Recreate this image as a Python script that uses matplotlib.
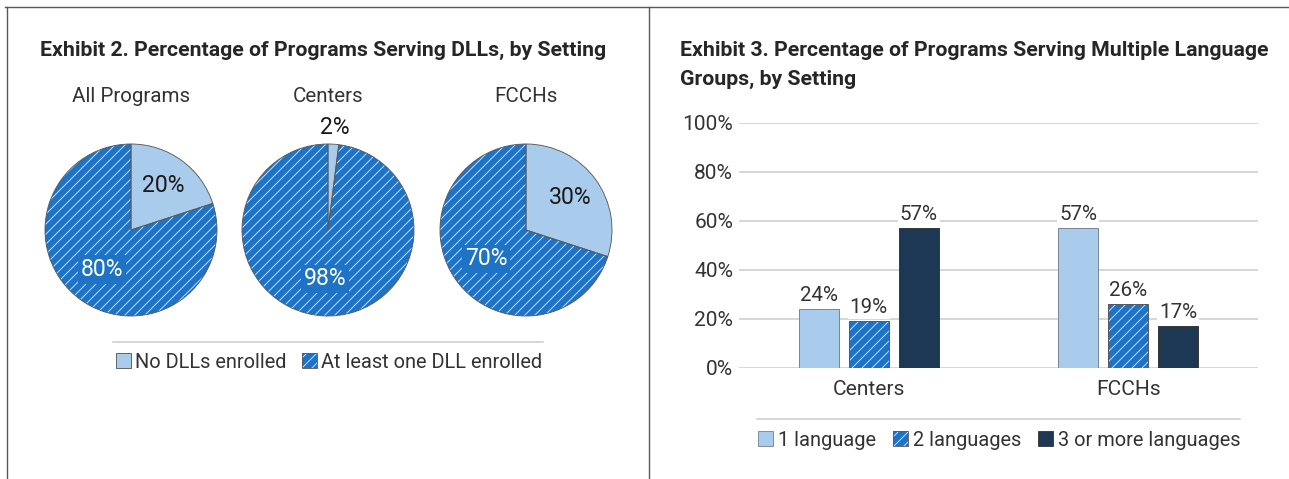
import numpy as np
import matplotlib
matplotlib.use('Agg')
import matplotlib.pyplot as plt
from matplotlib.lines import Line2D
from matplotlib.patches import Patch
from matplotlib.legend_handler import HandlerTuple

# Exhibit 2 data
pie_titles = ['All Programs', 'Centers', 'FCCHs']
no_dll = [20, 2, 30]
any_dll = [80, 98, 70]
pie_legend = ['No DLLs enrolled', 'At least one DLL enrolled']

# Exhibit 3 data
settings = ['Centers', 'FCCHs']
one_lang = [24, 57]
two_lang = [19, 26]
three_lang = [57, 17]
bar_legend = ['1 language', '2 languages', '3 or more languages']
y_ticks = [0, 20, 40, 60, 80, 100]

W, H = 1289, 479
DPI = 120


def px(v):
    # pixels -> points
    return v * 72.0 / DPI


def fx(x):
    return x / W


def fy(y):
    return 1 - y / H


LIGHT = '#A9CBEC'
BLUE = '#1F73C4'
NAVY = '#1C3854'
HATCH_C = '#D6E7F8'
EDGE = '#5A5A5A'
TEXT = '#333333'
GRID = '#CBCBCB'
HATCH = '////'

plt.rcParams['font.family'] = ['Roboto', 'DejaVu Sans']
plt.rcParams['hatch.linewidth'] = px(0.9)
TITLE_FONT = ['Liberation Sans Narrow', 'Roboto', 'DejaVu Sans']
TITLE_SIZE = px(21.3)

fig = plt.figure(figsize=(W / DPI, H / DPI), dpi=DPI)

# frame lines
frame_kw = dict(transform=fig.transFigure, color='#595959', lw=px(1.4))
fig.add_artist(Line2D([fx(5), 1], [fy(7), fy(7)], **frame_kw))
fig.add_artist(Line2D([fx(6.5), fx(6.5)], [fy(7), 0], **frame_kw))
fig.add_artist(Line2D([fx(649), fx(649)], [fy(7), 0], **frame_kw))

# titles
fig.text(fx(40), fy(56), 'Exhibit 2. Percentage of Programs Serving DLLs, by Setting',
         family=TITLE_FONT, fontweight='bold', fontsize=TITLE_SIZE, color='#262626',
         ha='left', va='baseline')
fig.text(fx(680), fy(56), 'Exhibit 3. Percentage of Programs Serving Multiple Language',
         family=TITLE_FONT, fontweight='bold', fontsize=TITLE_SIZE, color='#262626',
         ha='left', va='baseline')
fig.text(fx(680), fy(85), 'Groups, by Setting',
         family=TITLE_FONT, fontweight='bold', fontsize=TITLE_SIZE, color='#262626',
         ha='left', va='baseline')

# ---- Exhibit 2: pies ----
pie_cx = [131, 328, 526]
pie_cy = 230
R = 86
for i, cx in enumerate(pie_cx):
    ax = fig.add_axes([fx(cx - R), fy(pie_cy + R), 2 * R / W, 2 * R / H])
    vals = [no_dll[i], any_dll[i]]
    wedges, _ = ax.pie(vals, colors=[LIGHT, BLUE], startangle=90, counterclock=False,
                       wedgeprops=dict(linewidth=0))
    wedges[1].set_hatch(HATCH)
    wedges[1].set_edgecolor(HATCH_C)
    ax.pie(vals, colors=['none', 'none'], startangle=90, counterclock=False,
           wedgeprops=dict(fill=False, edgecolor=EDGE, linewidth=px(0.9)))
    ax.set_xlim(-1, 1)
    ax.set_ylim(-1, 1)
    ax.axis('off')

    # labels
    start = 90.0
    total = float(sum(vals))
    for j, v in enumerate(vals):
        span = 360.0 * v / total
        mid = np.deg2rad(start - span / 2)
        start -= span
        if v < 5:
            r = 1.2
        elif j == 0:
            r = 0.64
        else:
            r = 0.57
        tx, ty = r * np.cos(mid), r * np.sin(mid)
        if j == 0:
            ax.text(tx, ty, f'{v}%', ha='center', va='center', fontsize=px(23),
                    color='#1A1A1A')
        else:
            ax.text(tx, ty, f'{v}%', ha='center', va='center', fontsize=px(23),
                    color='white',
                    bbox=dict(boxstyle='square,pad=0.12', fc=BLUE, ec='none'))

    fig.text(fx(cx), fy(102), pie_titles[i], ha='center', va='baseline',
             fontsize=px(20.5), color=TEXT)

# pie legend
fig.add_artist(Line2D([fx(113), fx(543)], [fy(342), fy(342)], transform=fig.transFigure,
                      color=GRID, lw=px(1.5)))
h_light = Patch(facecolor=LIGHT, edgecolor=EDGE, linewidth=px(0.9))
h_hatch = (Patch(facecolor=BLUE, edgecolor=HATCH_C, hatch=HATCH, linewidth=0),
           Patch(fill=False, edgecolor=EDGE, linewidth=px(0.9)))
fig.legend([h_light, h_hatch], pie_legend, loc='center',
           bbox_to_anchor=(fx(329), fy(362)), ncol=2, frameon=False,
           fontsize=px(20), handlelength=0.75, handleheight=0.75,
           handletextpad=0.22, columnspacing=0.75, borderpad=0, borderaxespad=0,
           labelcolor=TEXT, handler_map={tuple: HandlerTuple(ndivide=1)})

# ---- Exhibit 3: bars ----
ax = fig.add_axes([fx(739), fy(367.7), (1258 - 739) / W, 245 / H])
x = np.arange(len(settings))
bw = 40 / 259.5
off = 50 / 259.5

b1 = ax.bar(x - off, one_lang, bw, color=LIGHT, edgecolor='#7A8796', linewidth=px(1.0),
            zorder=3)
ax.bar(x, two_lang, bw, color=BLUE, edgecolor=HATCH_C, hatch=HATCH, linewidth=0, zorder=3)
b2 = ax.bar(x, two_lang, bw, fill=False, edgecolor=EDGE, linewidth=px(1.0), zorder=4)
b3 = ax.bar(x + off, three_lang, bw, color=NAVY, edgecolor='#3A3A3A', linewidth=px(1.0),
            zorder=3)

for bars, vals in [(b1, one_lang), (b2, two_lang), (b3, three_lang)]:
    for rect, v in zip(bars, vals):
        ax.annotate(f'{v}%', (rect.get_x() + rect.get_width() / 2, v),
                    xytext=(0, px(4)), textcoords='offset points',
                    ha='center', va='bottom', fontsize=px(20.5), color=TEXT, zorder=5,
                    bbox=dict(boxstyle='square,pad=0.1', fc='white', ec='none'))

ax.set_xlim(-0.5, len(settings) - 0.5)
ax.set_ylim(0, 100)
ax.set_yticks(y_ticks)
ax.set_yticklabels([f'{t}%' for t in y_ticks])
ax.set_xticks(x)
ax.set_xticklabels(settings)
ax.tick_params(axis='both', length=0, labelsize=px(21), labelcolor=TEXT)
ax.tick_params(axis='y', pad=px(6))
ax.tick_params(axis='x', pad=px(12))
ax.yaxis.grid(True, color=GRID, linewidth=px(1.5), zorder=0)
ax.set_axisbelow(True)
for s in ax.spines.values():
    s.set_visible(False)

# bar legend
fig.add_artist(Line2D([fx(757), fx(1240)], [fy(419), fy(419)], transform=fig.transFigure,
                      color=GRID, lw=px(1.5)))
hb1 = Patch(facecolor=LIGHT, edgecolor='#7A8796', linewidth=px(0.9))
hb2 = (Patch(facecolor=BLUE, edgecolor=HATCH_C, hatch=HATCH, linewidth=0),
       Patch(fill=False, edgecolor=EDGE, linewidth=px(0.9)))
hb3 = Patch(facecolor=NAVY, edgecolor='#3A3A3A', linewidth=px(0.9))
fig.legend([hb1, hb2, hb3], bar_legend, loc='center',
           bbox_to_anchor=(fx(999), fy(440)), ncol=3, frameon=False,
           fontsize=px(20), handlelength=0.75, handleheight=0.75,
           handletextpad=0.25, columnspacing=0.85, borderpad=0, borderaxespad=0,
           labelcolor=TEXT, handler_map={tuple: HandlerTuple(ndivide=1)})

fig.savefig('out.png', dpi=DPI, facecolor='white')
